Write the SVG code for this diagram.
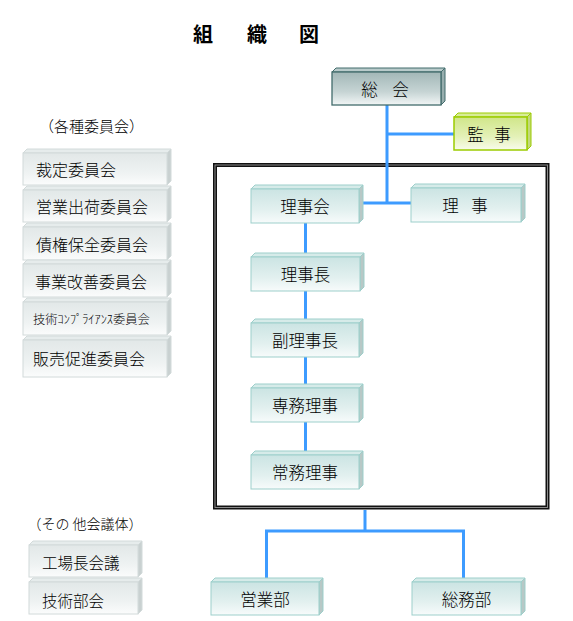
<svg xmlns="http://www.w3.org/2000/svg" width="573" height="621" viewBox="0 0 573 621">
<defs>
<linearGradient id="gTeal" x1="0" y1="0" x2="0" y2="1">
<stop offset="0" stop-color="#cbe4e3"/><stop offset="0.6" stop-color="#e2f0ef"/><stop offset="1" stop-color="#f7fbfb"/>
</linearGradient>
<linearGradient id="gGray" x1="0" y1="0" x2="0" y2="1">
<stop offset="0" stop-color="#e2e8e8"/><stop offset="0.6" stop-color="#eef2f2"/><stop offset="1" stop-color="#fbfcfc"/>
</linearGradient>
<linearGradient id="gDark" x1="0" y1="0" x2="0" y2="1">
<stop offset="0" stop-color="#a2b7b7"/><stop offset="0.6" stop-color="#c6d4d4"/><stop offset="1" stop-color="#f2f6f6"/>
</linearGradient>
<linearGradient id="gGreen" x1="0" y1="0" x2="0" y2="1">
<stop offset="0" stop-color="#d0e689"/><stop offset="0.6" stop-color="#e4f1b8"/><stop offset="1" stop-color="#f9fcec"/>
</linearGradient>
</defs>
<style>
text{font-family:"Noto Sans CJK JP","Noto Sans CJK SC",sans-serif;fill:#000;dominant-baseline:central;font-weight:300}
.c{text-anchor:middle}
.t16{font-size:16.5px}
.l16{font-size:16px}
.ttl{font-size:20px;font-weight:bold}
.teal .f{fill:url(#gTeal);stroke:#9dcfcb;stroke-width:1}
.teal .tp{fill:#d6ebe9;stroke:#9dcfcb;stroke-width:1}
.teal .sd{fill:#b8c8c6;stroke:#9dcfcb;stroke-width:1}
.gray .f{fill:url(#gGray);stroke:#d2dada;stroke-width:1}
.gray .tp{fill:#e6ecec;stroke:#d2dada;stroke-width:1}
.gray .sd{fill:#c9d1d1;stroke:#d2dada;stroke-width:1}
.dark .f{fill:url(#gDark);stroke:#436c6c;stroke-width:1.3}
.dark .tp{fill:#b9cbcb;stroke:#436c6c;stroke-width:1}
.dark .sd{fill:#98aeae;stroke:#436c6c;stroke-width:1}
.green .f{fill:url(#gGreen);stroke:#9ccc00;stroke-width:1.5}
.green .tp{fill:#d8ec98;stroke:#9ccc00;stroke-width:1}
.green .sd{fill:#c2d87a;stroke:#9ccc00;stroke-width:1}
.ln{stroke:#3d9bff;stroke-width:3;fill:none}
</style>
<rect width="573" height="621" fill="#fff"/>

<g id="title">
<text x="203" y="33" class="c ttl">組</text>
<text x="257" y="33" class="c ttl">織</text>
<text x="309" y="33" class="c ttl">図</text>
</g>

<g id="frame">
<rect x="215" y="165" width="332.5" height="342.5" fill="none" stroke="#111" stroke-width="4"/>
<rect x="215" y="165" width="332.5" height="342.5" fill="none" stroke="#8a8a8a" stroke-width="1"/>
</g>

<g id="connectors">
<path class="ln" d="M387 105 V203 M387 134 H454 M363 203 H411"/>
<path class="ln" d="M305.5 223 V257 M305.5 291 V323 M305.5 357 V388 M305.5 422 V455"/>
<path class="ln" d="M365 510 V531 M266.5 578 V531 H463.5 V578"/>
</g>

<g id="soukai" class="dark">
<polygon class="tp" points="332,72 336,68 445,68 441,72"/>
<polygon class="sd" points="441,72 445,68 445,101 441,105"/>
<rect class="f" x="332" y="72" width="109" height="33"/>
<text class="c t16" x="369.5 400.5" y="88.5">総会</text>
</g>

<g id="kanji" class="green">
<polygon class="tp" points="454,117 458,113 531,113 527,117"/>
<polygon class="sd" points="527,117 531,113 531,146 527,150"/>
<rect class="f" x="454" y="117" width="73" height="33"/>
<text class="c t16" x="475.5 502.5" y="133.5">監事</text>
</g>

<g id="rijikai" class="teal">
<polygon class="tp" points="251,189 255,185 363,185 359,189"/>
<polygon class="sd" points="359,189 363,185 363,219 359,223"/>
<rect class="f" x="251" y="189" width="108" height="34"/>
<text class="c t16" x="305" y="206">理事会</text>
</g>

<g id="riji" class="teal">
<polygon class="tp" points="411,188 415,184 525,184 521,188"/>
<polygon class="sd" points="521,188 525,184 525,218 521,222"/>
<rect class="f" x="411" y="188" width="110" height="34"/>
<text class="c t16" x="450.5 479.5" y="205">理事</text>
</g>

<g id="rijichou" class="teal">
<polygon class="tp" points="251,257 255,253 364,253 360,257"/>
<polygon class="sd" points="360,257 364,253 364,287 360,291"/>
<rect class="f" x="251" y="257" width="109" height="34"/>
<text class="c t16" x="305.5" y="274">理事長</text>
</g>

<g id="fukurijichou" class="teal">
<polygon class="tp" points="251,323 255,319 363,319 359,323"/>
<polygon class="sd" points="359,323 363,319 363,353 359,357"/>
<rect class="f" x="251" y="323" width="108" height="34"/>
<text class="c t16" x="305" y="340">副理事長</text>
</g>

<g id="senmu" class="teal">
<polygon class="tp" points="251,388 255,384 363,384 359,388"/>
<polygon class="sd" points="359,388 363,384 363,418 359,422"/>
<rect class="f" x="251" y="388" width="108" height="34"/>
<text class="c t16" x="305" y="405">専務理事</text>
</g>

<g id="joumu" class="teal">
<polygon class="tp" points="251,455 255,451 363,451 359,455"/>
<polygon class="sd" points="359,455 363,451 363,485 359,489"/>
<rect class="f" x="251" y="455" width="108" height="34"/>
<text class="c t16" x="305" y="472">常務理事</text>
</g>

<g id="eigyoubu" class="teal">
<polygon class="tp" points="211,582 215,578 323,578 319,582"/>
<polygon class="sd" points="319,582 323,578 323,611 319,615"/>
<rect class="f" x="211" y="582" width="108" height="33"/>
<text class="c t16" x="265" y="598.5">営業部</text>
</g>

<g id="soumubu" class="teal">
<polygon class="tp" points="412,582 416,578 525,578 521,582"/>
<polygon class="sd" points="521,582 525,578 525,611 521,615"/>
<rect class="f" x="412" y="582" width="109" height="33"/>
<text class="c t16" x="466.5" y="598.5">総務部</text>
</g>

<g id="heading1">
<text class="c" x="91.5" y="125" style="font-size:15px">（各種委員会）</text>
</g>

<g id="saitei" class="gray">
<polygon class="tp" points="23,153 27,149 171,149 167,153"/>
<polygon class="sd" points="167,153 171,149 171,181 167,185"/>
<rect class="f" x="23" y="153" width="144" height="32"/>
<text class="l16" x="36" y="169">裁定委員会</text>
</g>

<g id="eigyoushukka" class="gray">
<polygon class="tp" points="23,190 27,186 171,186 167,190"/>
<polygon class="sd" points="167,190 171,186 171,218 167,222"/>
<rect class="f" x="23" y="190" width="144" height="32"/>
<text class="l16" x="36" y="206">営業出荷委員会</text>
</g>

<g id="saiken" class="gray">
<polygon class="tp" points="23,227 27,223 171,223 167,227"/>
<polygon class="sd" points="167,227 171,223 171,256 167,260"/>
<rect class="f" x="23" y="227" width="144" height="33"/>
<text class="l16" x="36" y="243.5">債権保全委員会</text>
</g>

<g id="jigyoukaizen" class="gray">
<polygon class="tp" points="23,264 27,260 171,260 167,264"/>
<polygon class="sd" points="167,264 171,260 171,293 167,297"/>
<rect class="f" x="23" y="264" width="144" height="33"/>
<text class="l16" x="35" y="280.5">事業改善委員会</text>
</g>

<g id="compliance" class="gray">
<polygon class="tp" points="23,302 27,298 171,298 167,302"/>
<polygon class="sd" points="167,302 171,298 171,331 167,335"/>
<rect class="f" x="23" y="302" width="144" height="33"/>
<text x="33" y="318.5" style="font-size:12.3px">技術ｺﾝﾌﾟﾗｲｱﾝｽ委員会</text>
</g>

<g id="hanbai" class="gray">
<polygon class="tp" points="23,340 27,336 171,336 167,340"/>
<polygon class="sd" points="167,340 171,336 171,373 167,377"/>
<rect class="f" x="23" y="340" width="144" height="37"/>
<text class="l16" x="33" y="358">販売促進委員会</text>
</g>

<g id="heading2">
<text class="c" x="85" y="522.5" style="font-size:14px">（その 他会議体）</text>
</g>

<g id="koujouchou" class="gray">
<polygon class="tp" points="29,545 33,541 142,541 138,545"/>
<polygon class="sd" points="138,545 142,541 142,573 138,577"/>
<rect class="f" x="29" y="545" width="109" height="32"/>
<text x="42" y="562" style="font-size:15.5px">工場長会議</text>
</g>

<g id="gijutsubukai" class="gray">
<polygon class="tp" points="29,582 33,578 142,578 138,582"/>
<polygon class="sd" points="138,582 142,578 142,610 138,614"/>
<rect class="f" x="29" y="582" width="109" height="32"/>
<text x="42" y="599.5" style="font-size:15.5px">技術部会</text>
</g>
</svg>
